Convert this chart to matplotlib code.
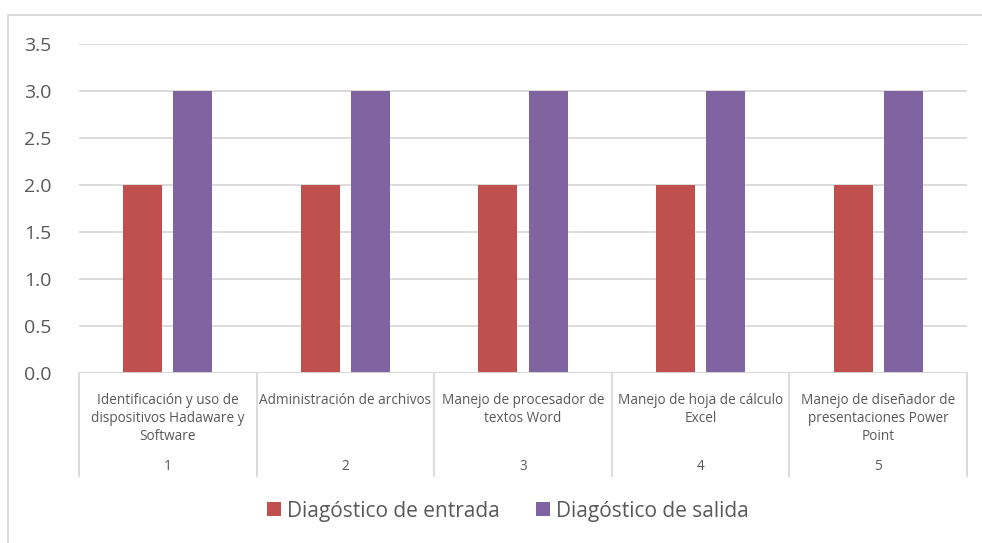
import matplotlib
matplotlib.use("Agg")
from matplotlib import pyplot as plt
from matplotlib.patches import Rectangle
import numpy as np

plt.rcParams['font.family'] = ['Open Sans', 'DejaVu Sans']

# data
categories = ["Identificación y uso de\ndispositivos Hadaware y\nSoftware",
              "Administración de archivos",
              "Manejo de procesador de\ntextos Word",
              "Manejo de hoja de cálculo\nExcel",
              "Manejo de diseñador de\npresentaciones Power\nPoint"]
numbers = ["1", "2", "3", "4", "5"]
entrada = [2, 2, 2, 2, 2]
salida = [3, 3, 3, 3, 3]
series_names = ["Diagóstico de entrada", "Diagóstico de salida"]
yticks = [0.0, 0.5, 1.0, 1.5, 2.0, 2.5, 3.0, 3.5]

red = "#C0504D"
purple = "#8064A2"
txt = "#595959"
grid = "#D9D9D9"

W, H = 982, 543
fig = plt.figure(figsize=(W / 100, H / 100), dpi=100)
ax = fig.add_axes([79 / W, 1 - 373 / H, (967 - 79) / W, (373 - 44) / H])

x = np.arange(len(categories))
bw = 0.22
off = 0.141
ax.bar(x - off, entrada, bw, color=red, label=series_names[0], zorder=3)
ax.bar(x + off, salida, bw, color=purple, label=series_names[1], zorder=3)

ax.set_xlim(-0.5, len(categories) - 0.5)
ax.set_ylim(0, 3.5)
ax.set_yticks(yticks)
ax.set_yticklabels(["%.1f" % v for v in yticks], fontsize=14, color=txt)
ax.tick_params(axis='y', length=0, pad=20)
ax.set_xticks([])
ax.grid(axis='y', color=grid, linewidth=1.3, zorder=0)
for s in ax.spines.values():
    s.set_visible(False)
ax.axhline(0, color=grid, linewidth=1.3, zorder=4)

# category axis: separators and two label levels
trans = ax.get_xaxis_transform()
for b in np.arange(len(categories) + 1) - 0.5:
    ax.plot([b, b], [0, -103 / 329], color=grid, linewidth=1.3,
            transform=trans, clip_on=False)
for i in x:
    ax.text(i, -20 / 329, categories[i], transform=trans, ha='center', va='top',
            fontsize=9.8, color=txt, linespacing=1.25)
    ax.text(i, -93 / 329, numbers[i], transform=trans, ha='center', va='center',
            fontsize=9.8, color=txt)

leg = fig.legend(loc='center', bbox_to_anchor=(508 / W, 1 - 511 / H), ncol=2,
                 frameon=False, fontsize=15, handlelength=0.65, handleheight=0.65,
                 handletextpad=0.3, columnspacing=1.75)
for t in leg.get_texts():
    t.set_color(txt)

# chart area border
fig.patches.append(Rectangle((8 / W, -0.01), 1.0, 1 - 15 / H + 0.01,
                             transform=fig.transFigure, fill=False,
                             edgecolor=grid, linewidth=1.3))

fig.savefig("out.png", dpi=100)
